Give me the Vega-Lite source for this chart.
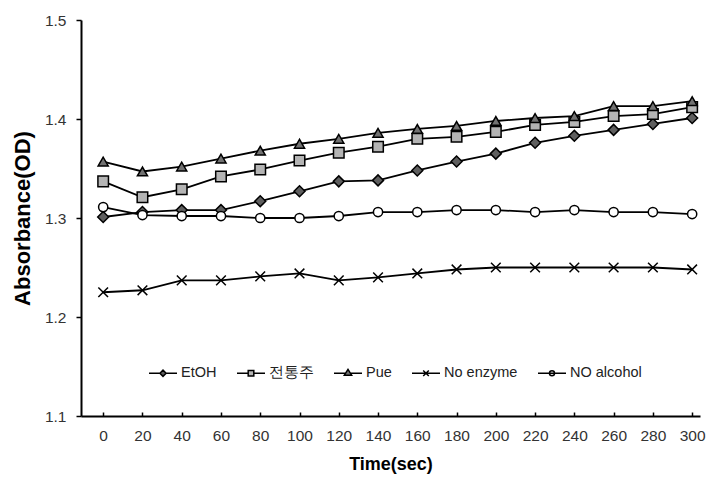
{
  "$schema": "https://vega.github.io/schema/vega-lite/v6.json",
  "width": 619,
  "height": 396,
  "autosize": {"type": "none"},
  "padding": {"left": 81, "top": 20, "right": 9, "bottom": 70},
  "background": "white",
  "config": {
    "view": {"stroke": null},
    "font": "Liberation Sans",
    "axis": {
      "grid": false,
      "domainColor": "black",
      "domainWidth": 2,
      "tickColor": "black",
      "tickWidth": 1.5,
      "labelColor": "#333333",
      "labelFont": "Liberation Sans",
      "labelFontSize": 15.5,
      "titleColor": "black",
      "titleFont": "Liberation Sans",
      "titleFontWeight": "bold"
    },
    "legend": {
      "labelFont": "Liberation Sans",
      "labelFontSize": 14.5,
      "labelColor": "#222222"
    }
  },
  "data": {
    "values": [
      {"Time": 0, "Series": "EtOH", "OD": 1.301},
      {"Time": 20, "Series": "EtOH", "OD": 1.306},
      {"Time": 40, "Series": "EtOH", "OD": 1.308},
      {"Time": 60, "Series": "EtOH", "OD": 1.308},
      {"Time": 80, "Series": "EtOH", "OD": 1.317},
      {"Time": 100, "Series": "EtOH", "OD": 1.327},
      {"Time": 120, "Series": "EtOH", "OD": 1.337},
      {"Time": 140, "Series": "EtOH", "OD": 1.338},
      {"Time": 160, "Series": "EtOH", "OD": 1.348},
      {"Time": 180, "Series": "EtOH", "OD": 1.357},
      {"Time": 200, "Series": "EtOH", "OD": 1.365},
      {"Time": 220, "Series": "EtOH", "OD": 1.376},
      {"Time": 240, "Series": "EtOH", "OD": 1.383},
      {"Time": 260, "Series": "EtOH", "OD": 1.389},
      {"Time": 280, "Series": "EtOH", "OD": 1.395},
      {"Time": 300, "Series": "EtOH", "OD": 1.401},
      {"Time": 0, "Series": "전통주", "OD": 1.337},
      {"Time": 20, "Series": "전통주", "OD": 1.321},
      {"Time": 40, "Series": "전통주", "OD": 1.329},
      {"Time": 60, "Series": "전통주", "OD": 1.342},
      {"Time": 80, "Series": "전통주", "OD": 1.349},
      {"Time": 100, "Series": "전통주", "OD": 1.358},
      {"Time": 120, "Series": "전통주", "OD": 1.366},
      {"Time": 140, "Series": "전통주", "OD": 1.372},
      {"Time": 160, "Series": "전통주", "OD": 1.380},
      {"Time": 180, "Series": "전통주", "OD": 1.382},
      {"Time": 200, "Series": "전통주", "OD": 1.387},
      {"Time": 220, "Series": "전통주", "OD": 1.394},
      {"Time": 240, "Series": "전통주", "OD": 1.397},
      {"Time": 260, "Series": "전통주", "OD": 1.403},
      {"Time": 280, "Series": "전통주", "OD": 1.405},
      {"Time": 300, "Series": "전통주", "OD": 1.412},
      {"Time": 0, "Series": "Pue", "OD": 1.357},
      {"Time": 20, "Series": "Pue", "OD": 1.347},
      {"Time": 40, "Series": "Pue", "OD": 1.352},
      {"Time": 60, "Series": "Pue", "OD": 1.360},
      {"Time": 80, "Series": "Pue", "OD": 1.368},
      {"Time": 100, "Series": "Pue", "OD": 1.375},
      {"Time": 120, "Series": "Pue", "OD": 1.380},
      {"Time": 140, "Series": "Pue", "OD": 1.386},
      {"Time": 160, "Series": "Pue", "OD": 1.390},
      {"Time": 180, "Series": "Pue", "OD": 1.393},
      {"Time": 200, "Series": "Pue", "OD": 1.398},
      {"Time": 220, "Series": "Pue", "OD": 1.401},
      {"Time": 240, "Series": "Pue", "OD": 1.403},
      {"Time": 260, "Series": "Pue", "OD": 1.413},
      {"Time": 280, "Series": "Pue", "OD": 1.413},
      {"Time": 300, "Series": "Pue", "OD": 1.418},
      {"Time": 0, "Series": "No enzyme", "OD": 1.225},
      {"Time": 20, "Series": "No enzyme", "OD": 1.227},
      {"Time": 40, "Series": "No enzyme", "OD": 1.237},
      {"Time": 60, "Series": "No enzyme", "OD": 1.237},
      {"Time": 80, "Series": "No enzyme", "OD": 1.241},
      {"Time": 100, "Series": "No enzyme", "OD": 1.244},
      {"Time": 120, "Series": "No enzyme", "OD": 1.237},
      {"Time": 140, "Series": "No enzyme", "OD": 1.240},
      {"Time": 160, "Series": "No enzyme", "OD": 1.244},
      {"Time": 180, "Series": "No enzyme", "OD": 1.248},
      {"Time": 200, "Series": "No enzyme", "OD": 1.250},
      {"Time": 220, "Series": "No enzyme", "OD": 1.250},
      {"Time": 240, "Series": "No enzyme", "OD": 1.250},
      {"Time": 260, "Series": "No enzyme", "OD": 1.250},
      {"Time": 280, "Series": "No enzyme", "OD": 1.250},
      {"Time": 300, "Series": "No enzyme", "OD": 1.248},
      {"Time": 0, "Series": "NO alcohol", "OD": 1.311},
      {"Time": 20, "Series": "NO alcohol", "OD": 1.303},
      {"Time": 40, "Series": "NO alcohol", "OD": 1.302},
      {"Time": 60, "Series": "NO alcohol", "OD": 1.302},
      {"Time": 80, "Series": "NO alcohol", "OD": 1.300},
      {"Time": 100, "Series": "NO alcohol", "OD": 1.300},
      {"Time": 120, "Series": "NO alcohol", "OD": 1.302},
      {"Time": 140, "Series": "NO alcohol", "OD": 1.306},
      {"Time": 160, "Series": "NO alcohol", "OD": 1.306},
      {"Time": 180, "Series": "NO alcohol", "OD": 1.308},
      {"Time": 200, "Series": "NO alcohol", "OD": 1.308},
      {"Time": 220, "Series": "NO alcohol", "OD": 1.306},
      {"Time": 240, "Series": "NO alcohol", "OD": 1.308},
      {"Time": 260, "Series": "NO alcohol", "OD": 1.306},
      {"Time": 280, "Series": "NO alcohol", "OD": 1.306},
      {"Time": 300, "Series": "NO alcohol", "OD": 1.304}
    ]
  },
  "encoding": {
    "x": {
      "field": "Time",
      "type": "quantitative",
      "scale": {"domain": [-11.3, 304], "nice": false, "zero": false},
      "axis": {
        "title": "Time(sec)",
        "values": [0, 20, 40, 60, 80, 100, 120, 140, 160, 180, 200, 220, 240, 260, 280, 300],
        "tickSize": -4,
        "labelPadding": 16,
        "titleFontSize": 18,
        "titlePadding": 12
      }
    },
    "y": {
      "field": "OD",
      "type": "quantitative",
      "scale": {"domain": [1.1, 1.5], "nice": false, "zero": false},
      "axis": {
        "title": "Absorbance(OD)",
        "values": [1.1, 1.2, 1.3, 1.4, 1.5],
        "format": ".1f",
        "tickSize": 5,
        "labelPadding": 10,
        "titleFontSize": 22,
        "titleX": -59,
        "titleBaseline": "middle"
      }
    }
  },
  "layer": [
    {
      "mark": {"type": "line", "color": "black", "strokeWidth": 1.8},
      "encoding": {"detail": {"field": "Series"}}
    },
    {
      "mark": {"type": "point", "filled": true, "stroke": "black", "strokeWidth": 1.5, "opacity": 1},
      "encoding": {
        "shape": {
          "field": "Series",
          "scale": {
            "domain": ["EtOH", "전통주", "Pue", "No enzyme", "NO alcohol"],
            "range": ["diamond", "square", "triangle-up", "M-1,-1L1,1M-1,1L1,-1", "circle"]
          },
          "legend": null
        },
        "fill": {
          "field": "Series",
          "scale": {
            "domain": ["EtOH", "전통주", "Pue", "No enzyme", "NO alcohol"],
            "range": ["#5f5f5f", "#b4b4b4", "#727272", "black", "white"]
          },
          "legend": null
        },
        "size": {
          "field": "Series",
          "scale": {
            "domain": ["EtOH", "전통주", "Pue", "No enzyme", "NO alcohol"],
            "range": [120, 85, 160, 110, 90]
          },
          "legend": null
        }
      }
    },
    {
      "transform": [{"filter": "datum.Time < 0"}],
      "mark": {"type": "point", "filled": true, "stroke": "black", "strokeWidth": 1.5, "opacity": 1},
      "encoding": {
        "shape": {
          "field": "Series",
          "scale": {
            "domain": ["EtOH", "전통주", "Pue", "No enzyme", "NO alcohol"],
            "range": [
              "M-1,0H-0.22M0.22,0H1M-0.22,0L0,-0.22L0.22,0L0,0.22Z",
              "M-1,0H-0.2M0.2,0H1M-0.2,-0.2H0.2V0.2H-0.2Z",
              "M-1,0H-0.17M0.17,0H1M-0.26,0.14L0,-0.28L0.26,0.14Z",
              "M-1,0H1M-0.2,-0.2L0.2,0.2M-0.2,0.2L0.2,-0.2",
              "M-1,0H1M0.18,0A0.18,0.18 0 1 1 -0.18,0A0.18,0.18 0 1 1 0.18,0Z"
            ]
          },
          "legend": {
            "title": null,
            "orient": "none",
            "direction": "horizontal",
            "legendX": 67,
            "legendY": 338,
            "symbolSize": 784,
            "labelOffset": 3,
            "columnPadding": 17,
            "encode": {
              "symbols": {
                "update": {
                  "stroke": {"value": "black"},
                  "strokeWidth": {"value": 1.5},
                  "opacity": {"value": 1}
                }
              }
            }
          }
        },
        "fill": {
          "field": "Series",
          "scale": {
            "domain": ["EtOH", "전통주", "Pue", "No enzyme", "NO alcohol"],
            "range": ["#5f5f5f", "#b4b4b4", "#727272", "black", "white"]
          },
          "legend": {
            "title": null,
            "orient": "none",
            "direction": "horizontal",
            "legendX": 67,
            "legendY": 338,
            "symbolSize": 784,
            "labelOffset": 3,
            "columnPadding": 17,
            "encode": {
              "symbols": {
                "update": {
                  "stroke": {"value": "black"},
                  "strokeWidth": {"value": 1.5},
                  "opacity": {"value": 1}
                }
              }
            }
          }
        }
      }
    }
  ],
  "resolve": {
    "scale": {"shape": "independent", "fill": "independent"},
    "legend": {"shape": "independent", "fill": "independent"}
  }
}
